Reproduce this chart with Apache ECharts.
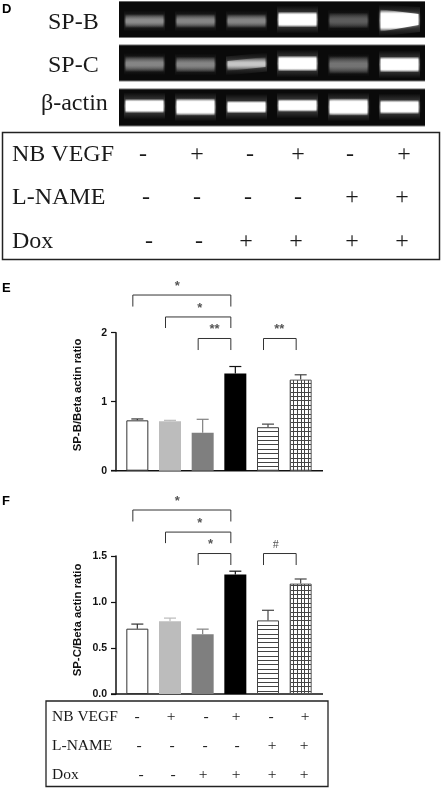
<!DOCTYPE html>
<html><head><meta charset="utf-8">
<style>html,body{margin:0;padding:0;background:#fff}#c{width:442px;height:789px}</style>
<script src="https://cdn.jsdelivr.net/npm/echarts@6/dist/echarts.min.js"></script>
</head><body><div id="c"></div>
<script>
// ---------- data ----------
const categories = ['Control','NB VEGF','Dox','NB VEGF+Dox','L-NAME+Dox','NB VEGF+L-NAME+Dox'];
const spbValues = [0.73,0.715,0.55,1.41,0.63,1.32];
const spbErrTop = [0.75,0.73,0.745,1.51,0.675,1.39];
const spcValues = [0.71,0.79,0.65,1.30,0.80,1.20];
const spcErrTop = [0.76,0.825,0.705,1.335,0.91,1.25];
const spbTicks = [0,1,2];
const spcTicks = [0,0.5,1,1.5];
// brackets: [fromBar, toBar, level on the y scale, leg drop]
const spbBrackets = [[0,3,2.546,0.167],[1,3,2.228,0.16],[2,3,1.916,0.167],[4,5,1.916,0.167]];
const spbMarks = ['*','*','**','**'];
const spcBrackets = [[0,3,2.0,0.125],[1,3,1.76,0.12],[2,3,1.527,0.125],[4,5,1.527,0.125]];
const spcMarks = ['*','*','*','#'];
// gel bands per lane
const gelSpbCentre = [19.5,19.5,19.5,18,19,18.5];
const gelSpbTiltTop = [0,0,0,0,0,-1];
const gelSpbThickL = [7,7,7,10,8,14];
const gelSpbThickR = [7,7,7,10,8,7];
const gelSpbBright = [0.55,0.52,0.52,1,0.36,1];
const gelSpcCentre = [19,19.5,19,18.5,20,19.5];
const gelSpcTiltTop = [0,0,-4,0,0,0];
const gelSpcThickL = [8,8,5,10,9,10];
const gelSpcThickR = [8,8,5,10,9,10];
const gelSpcBright = [0.52,0.52,0.78,1,0.45,1];
const gelActCentre = [17,18,18,16.5,18,18];
const gelActTiltTop = [0,0,0,0,0,0];
const gelActThickL = [9,11,8,8,11,9];
const gelActThickR = [9,11,8,8,11,9];
const gelActBright = [1,1,1,1,1,1];
// treatment table
const rowLabels = ['NB VEGF','L-NAME','Dox'];
const rowNbVegf = ['-','+','-','+','-','+'];
const rowLName = ['-','-','-','-','+','+'];
const rowDox = ['-','-','+','+','+','+'];

// ---------- layout ----------
const signRows = [rowNbVegf,rowLName,rowDox];
const topXs = [[143,197,250,298,350,404],[146,197,248,298,352,402],[149,199,246,296,352,402]];
const topYs = [155,198,242];
const lowXs = [[137,171,206,236,271,305],[139,172,205,237,272,304],[141,173,203,236,272,304]];
const lowYs = [717,746,775];
const markDx = [-4.5,1.5,0,-0.5];
const markDxF = [-4.5,1.5,-4,-4];
const serif = '"Liberation Serif","Times New Roman",serif';
const sans = '"Liberation Sans",Arial,sans-serif';

function pat(w,h,draw){const c=document.createElement('canvas');c.width=w;c.height=h;const g=c.getContext('2d');g.fillStyle='#fff';g.fillRect(0,0,w,h);g.fillStyle='#444';draw(g);return {image:c,repeat:'repeat'};}
const hatchH = pat(4,22,g=>{[0,4,9,13,18].forEach(y=>g.fillRect(0,y,4,1));});
const hatchG = pat(11,22,g=>{[0,4,9,13,18].forEach(y=>g.fillRect(0,y,11,1));[0,4,7].forEach(x=>g.fillRect(x,0,1,22));});
const barStyles = [
 {color:'#fff',borderColor:'#333',borderWidth:1},
 {color:'#bcbcbc'},
 {color:'#7f7f7f'},
 {color:'#000'},
 {color:hatchH,borderColor:'#444',borderWidth:1},
 {color:hatchG,borderColor:'#555',borderWidth:1}];
const errColors = ['#333','#bbb','#808080','#111','#444','#444'];

const gels = [
 {top:1.5,h:36,c:gelSpbCentre,t:gelSpbTiltTop,l:gelSpbThickL,r:gelSpbThickR,b:gelSpbBright},
 {top:45,h:36,c:gelSpcCentre,t:gelSpcTiltTop,l:gelSpcThickL,r:gelSpcThickR,b:gelSpcBright},
 {top:89,h:37,c:gelActCentre,t:gelActTiltTop,l:gelActThickL,r:gelActThickR,b:gelActBright}];
const charts = [
 {top:332.7,h:138,max:2,ticks:spbTicks,interval:1,vals:spbValues,err:spbErrTop,br:spbBrackets,marks:spbMarks,dec:0,dx:markDx},
 {top:556,h:138,max:1.5,ticks:spcTicks,interval:0.5,vals:spcValues,err:spcErrTop,br:spcBrackets,marks:spcMarks,dec:1,dx:markDxF}];

const grids=[],xAxes=[],yAxes=[],series=[];
gels.forEach((g,k)=>{
 grids.push({left:119,width:306,top:g.top,height:g.h,show:true,backgroundColor:'#0a0a0a',borderWidth:0});
 xAxes.push({type:'category',gridIndex:k,data:categories,show:false});
 yAxes.push({type:'value',gridIndex:k,min:0,max:g.h,inverse:true,show:false});
 series.push({type:'custom',xAxisIndex:k,yAxisIndex:k,clip:true,silent:true,
  data:g.c.map((c,i)=>[i,c]),
  renderItem(p,api){
   const i=p.dataIndex,tilt=g.t[i],br=g.b[i];
   const pt=api.coord([i,g.c[i]]);
   const Y=pt[1],yl=Y-tilt*0.5,yr=Y+tilt*0.5;
   const v=Math.round(255*br),rgba=a=>'rgba('+v+','+v+','+v+','+a+')';
   const poly=(hw,tl,tr,stops,blur)=>({type:'polygon',
     shape:{points:[[pt[0]-hw,yl-tl/2],[pt[0]+hw,yr-tr/2],[pt[0]+hw,yr+tr/2],[pt[0]-hw,yl+tl/2]]},
     style:{fill:{type:'linear',x:0,y:0,x2:0,y2:1,colorStops:stops},shadowBlur:blur,shadowColor:rgba(0.5)}});
   const bright=br>0.9;
   const halo=[{offset:0,color:rgba(0)},{offset:0.5,color:rgba(bright?0.32:0.3)},{offset:1,color:rgba(0)}];
   const core=bright
     ?[{offset:0,color:rgba(0)},{offset:0.2,color:rgba(1)},{offset:0.8,color:rgba(1)},{offset:1,color:rgba(0)}]
     :[{offset:0,color:rgba(0)},{offset:0.42,color:rgba(1)},{offset:0.58,color:rgba(1)},{offset:1,color:rgba(0)}];
   const k1=bright?1.6:2.0;
   return {type:'group',children:[
    poly(20.5,g.l[i]+(bright?18:14),g.r[i]+(bright?18:14),halo,0),
    poly(19,g.l[i]*k1,g.r[i]*k1,core,3)
   ]};
  }});
});
charts.forEach((c,n)=>{
 const k=n+3;
 grids.push({left:121,width:196,top:c.top,height:c.h});
 xAxes.push({type:'category',gridIndex:k,data:categories,axisLine:{show:false},axisTick:{show:false},axisLabel:{show:false}});
 yAxes.push({type:'value',gridIndex:k,min:0,max:c.max,interval:c.interval,offset:5,splitLine:{show:false},
  axisLine:{show:true,lineStyle:{color:'#111',width:1.5}},
  axisTick:{show:true,length:5,lineStyle:{color:'#111',width:1.2}},
  axisLabel:{margin:9,fontFamily:sans,fontWeight:'bold',fontSize:10.5,color:'#111',
   formatter:v=>c.ticks.indexOf(v)>=0?v.toFixed(c.dec):''}});
 series.push({type:'bar',xAxisIndex:k,yAxisIndex:k,barWidth:22,silent:true,
  data:c.vals.map((v,i)=>({value:v,itemStyle:barStyles[i]}))});
 series.push({type:'custom',xAxisIndex:k,yAxisIndex:k,silent:true,z:1,
  data:c.err.map((e,i)=>[i,e]),
  renderItem(p,api){
   const i=p.dataIndex,a=api.coord([i,c.vals[i]]),b=api.coord([i,c.err[i]]),col=errColors[i];
   const st={stroke:col,lineWidth:1.2,fill:null};
   return {type:'group',children:[
    {type:'line',shape:{x1:a[0],y1:a[1],x2:b[0],y2:b[1]},style:st},
    {type:'line',shape:{x1:a[0]-6,y1:b[1],x2:a[0]+6,y2:b[1]},style:st}]};
  }});
 series.push({type:'custom',xAxisIndex:k,yAxisIndex:k,silent:true,clip:false,
  data:c.br.map(b=>[b[0],b[2]]),
  renderItem(p,api){
   const b=c.br[p.dataIndex],shift=-4.5;
   const A=api.coord([b[0],b[2]]),B=api.coord([b[1],b[2]]),D=api.coord([b[0],b[2]-b[3]]);
   const x1=A[0]+shift,x2=B[0]+shift,y=A[1],yd=D[1];
   const mark=c.marks[p.dataIndex];
   const isHash=mark==='#';
   return {type:'group',children:[
    {type:'polyline',shape:{points:[[x1,yd],[x1,y],[x2,y],[x2,yd]]},style:{stroke:'#333',lineWidth:1,fill:null}},
    {type:'text',style:{text:mark,x:(x1+x2)/2+c.dx[p.dataIndex],y:y-9,
     align:'center',verticalAlign:'middle',font:isHash?('12px '+serif):('bold 13px '+sans),fill:'#555'}}]};
  }});
});

// ---------- page furniture ----------
const T=(text,x,y,size,align)=>({type:'text',silent:true,x,y,style:{text,fontFamily:serif,fontSize:size,fill:'#1a1a1a',align:align||'left',verticalAlign:'middle'}});
const L=(x1,y1,x2,y2,col,w)=>({type:'line',silent:true,shape:{x1,y1,x2,y2},style:{stroke:col,lineWidth:w}});
const graphic=[];
const panelLetter=(s,y)=>graphic.push({type:'text',silent:true,x:2,y,style:{text:s,fontFamily:sans,fontWeight:'bold',fontSize:13,fill:'#000',verticalAlign:'middle'}});
panelLetter('D',9);panelLetter('E',288);panelLetter('F',501);
[['SP-B',48,23],['SP-C',48,66],['β-actin',41,104]].forEach(a=>graphic.push(T(a[0],a[1],a[2],24)));
gels.forEach(g=>{graphic.push(L(119,g.top,425,g.top,'#666',1));graphic.push(L(119,g.top+g.h,425,g.top+g.h,'#777',1));});
// tables
graphic.push({type:'rect',silent:true,shape:{x:2.5,y:132.5,width:437,height:127},style:{fill:'none',stroke:'#222',lineWidth:1.5}});
graphic.push({type:'rect',silent:true,shape:{x:46,y:701,width:282,height:85.5},style:{fill:'none',stroke:'#222',lineWidth:1.3}});
rowLabels.forEach((s,r)=>{
 graphic.push(T(s,12,topYs[r],24));
 graphic.push(T(s,52,lowYs[r],15.5));
 signRows[r].forEach((v,i)=>{
  graphic.push(T(v,topXs[r][i],topYs[r],24,'center'));
  graphic.push(T(v,lowXs[r][i],lowYs[r],15.5,'center'));
 });
});
// axis titles and baselines
[['SP-B/Beta actin ratio',395],['SP-C/Beta actin ratio',620]].forEach(a=>graphic.push({type:'text',silent:true,x:78,y:a[1],rotation:Math.PI/2,
 style:{text:a[0],fontFamily:sans,fontWeight:'bold',fontSize:11.4,fill:'#111',align:'center',verticalAlign:'middle'}}));
charts.forEach(c=>graphic.push(L(111,c.top+c.h,323,c.top+c.h,'#111',1.5)));

const chart=echarts.init(document.getElementById('c'),null,{renderer:'canvas'});
chart.setOption({animation:false,backgroundColor:'#fff',grid:grids,xAxis:xAxes,yAxis:yAxes,series,graphic});
</script></body></html>
